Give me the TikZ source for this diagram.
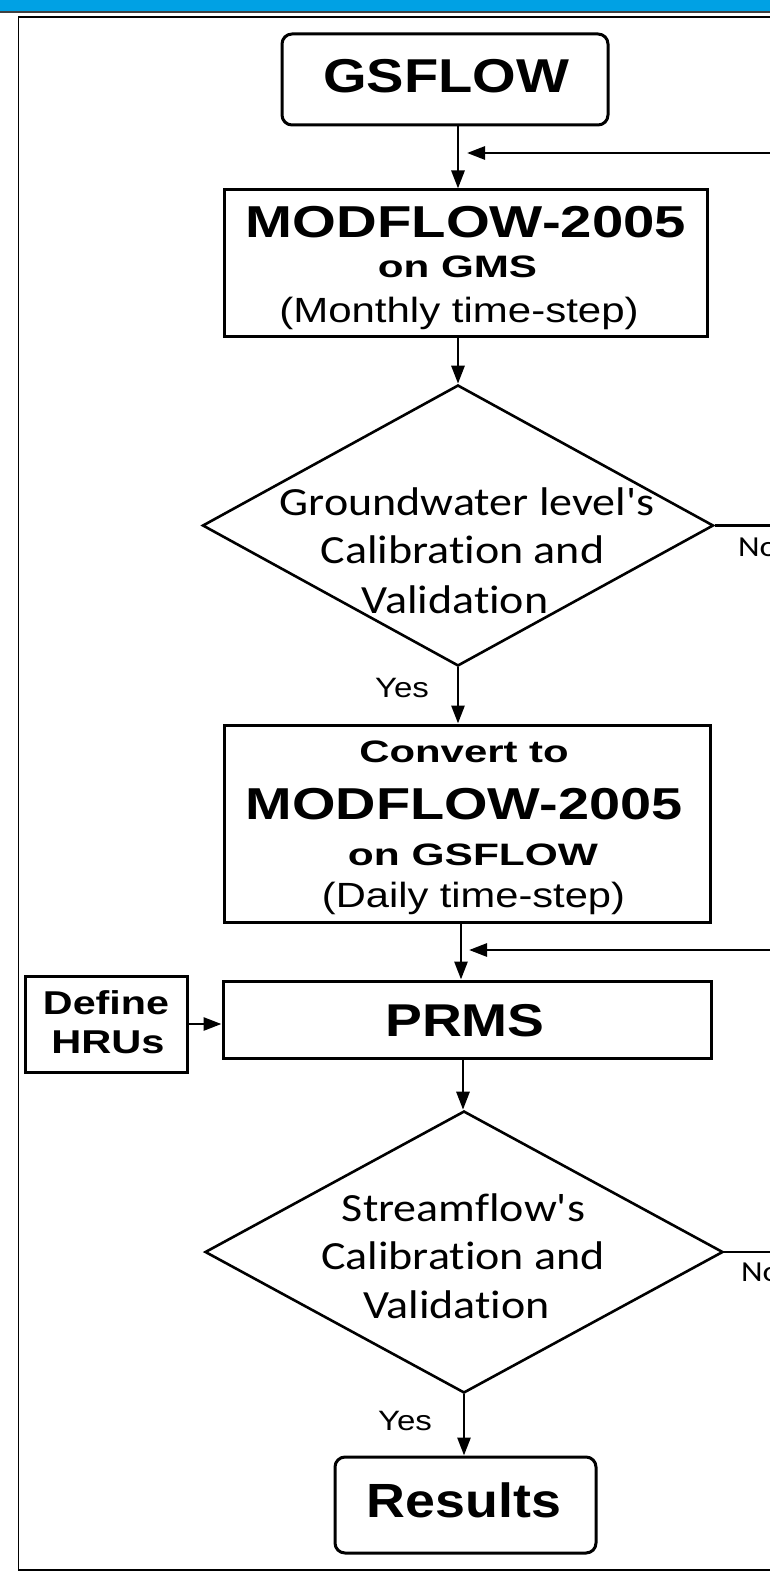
\documentclass[tikz,border=0pt]{standalone}
\usepackage{graphicx}
\usepackage{fontspec}
\setmainfont{Liberation Sans}
\newfontfamily\calfont[RawFeature={-liga;-clig;-dlig;-calt}]{Carlito}
\usetikzlibrary{shapes.geometric,arrows.meta}
\definecolor{barblue}{RGB}{0,161,228}
\newcommand\tl[3]{{\fontsize{#1}{#1}\selectfont\scalebox{#2}[1]{#3}}}
\begin{document}
\begin{tikzpicture}[x=1pt,y=-1pt,
  box/.style={draw,line width=3pt,inner sep=0pt,rectangle},
  rbox/.style={box,rounded corners=10pt},
  dia/.style={draw,line width=2.6pt,diamond,inner sep=0pt},
  arr/.style={line width=2.8pt,-{Triangle[length=18pt,width=13pt]}},
  ln/.style={line width=2.6pt},
  lbl/.style={anchor=base,inner sep=0pt,outer sep=0pt}]
\useasboundingbox (0,0) rectangle (770,1573);
\clip (0,0) rectangle (770,1573);
\fill[barblue] (0,0) rectangle (770,11);
\fill[black!75] (0,11) rectangle (770,13.5);
\draw[line width=1.8pt] (790,17) -- (18.5,17) -- (18.5,1570) -- (790,1570);

% boxes
\node[rbox,minimum width=326pt,minimum height=91pt] (gs) at (445,79.5) {};
\node[box,minimum width=483pt,minimum height=146pt] (mf) at (465.5,263) {};
\node[dia,minimum width=511pt,minimum height=281pt] (d1) at (458,525.5) {};
\node[box,minimum width=486pt,minimum height=197pt] (cv) at (467,823.5) {};
\node[box,minimum width=488pt,minimum height=77pt] (prms) at (467,1019.5) {};
\node[box,minimum width=162pt,minimum height=96pt] (hru) at (106,1024) {};
\node[dia,minimum width=518pt,minimum height=282pt] (d2) at (464,1252) {};
\node[rbox,minimum width=261pt,minimum height=96pt] (res) at (465.5,1505) {};

% texts
\node[lbl] (tgs) at (446,93) {\bfseries\tl{47.5}{1.18}{GSFLOW}};
\node[lbl] (tmf1) at (466,237) {\bfseries\tl{44.7}{1.26}{MODFLOW-2005}};
\node[lbl] (tmf2) at (457.5,277) {\bfseries\tl{31}{1.36}{on GMS}};
\node[lbl] (tmf3) at (459,322) {\tl{35}{1.2}{(Monthly time-step)}};
\node[lbl] (td1a) at (467,515) {\calfont\tl{40}{1.15}{Groundwater level's}};
\node[lbl] (td1b) at (462.5,563) {\calfont\tl{40}{1.15}{Calibrat\kern0pt ion and}};
\node[lbl] (td1c) at (455,613) {\calfont\tl{40}{1.15}{Validat\kern0pt ion}};
\node[lbl,anchor=base west] (no1) at (738,556) {\calfont\tl{29}{1.15}{No}};
\node[lbl] (yes1) at (402,697) {\tl{28}{1.18}{Yes}};
\node[lbl] (tcv1) at (464,762) {\bfseries\tl{31}{1.35}{Convert to}};
\node[lbl] (tcv2) at (464,819) {\bfseries\tl{44.7}{1.25}{MODFLOW-2005}};
\node[lbl] (tcv3) at (473,865) {\bfseries\tl{31}{1.37}{on GSFLOW}};
\node[lbl] (tcv4) at (473.5,907) {\tl{35}{1.19}{(Daily time-step)}};
\node[lbl] (tpr) at (465,1036) {\bfseries\tl{46}{1.2}{PRMS}};
\node[lbl] (thr1) at (106,1014) {\bfseries\tl{33}{1.25}{Define}};
\node[lbl] (thr2) at (108,1053) {\bfseries\tl{33}{1.26}{HRUs}};
\node[lbl] (td2a) at (463.5,1221) {\calfont\tl{40}{1.15}{Streamf\kern0pt low's}};
\node[lbl] (td2b) at (463,1269) {\calfont\tl{40}{1.15}{Calibrat\kern0pt ion and}};
\node[lbl] (td2c) at (456.5,1318) {\calfont\tl{40}{1.15}{Validat\kern0pt ion}};
\node[lbl,anchor=base west] (no2) at (741,1281) {\calfont\tl{29}{1.15}{No}};
\node[lbl] (yes2) at (405,1430) {\tl{28}{1.18}{Yes}};
\node[lbl] (tres) at (464,1517) {\bfseries\tl{48}{1.12}{Results}};

% connector columns
\coordinate (ax1) at (458,0);
\coordinate (ax3) at (461,0);
\coordinate (ax4) at (463,0);

\draw[arr] (gs.south -| ax1) -- (mf.north -| ax1);
\draw[arr] (mf.south -| ax1) -- (d1.north);
\draw[arr] (d1.south) -- (cv.north -| d1.south);
\draw[arr] (cv.south -| ax3) -- (prms.north -| ax3);
\draw[arr] (prms.south -| ax4) -- (d2.north -| ax4);
\draw[arr] (d2.south) -- (res.north -| d2.south);
\draw[arr] (hru.east) -- (prms.west |- hru.east);

% return lines
\coordinate (r1) at (790,153);
\coordinate (r1t) at (467,153);
\draw[arr] (r1) -- (r1t);
\coordinate (r2) at (790,950);
\coordinate (r2t) at (469,950);
\draw[arr] (r2) -- (r2t);

% No lines
\coordinate (n1) at (790,525.5);
\draw[ln] (d1.east) -- (n1);
\coordinate (n2) at (790,1252);
\draw[ln] (d2.east) -- (n2);
\end{tikzpicture}
\end{document}
